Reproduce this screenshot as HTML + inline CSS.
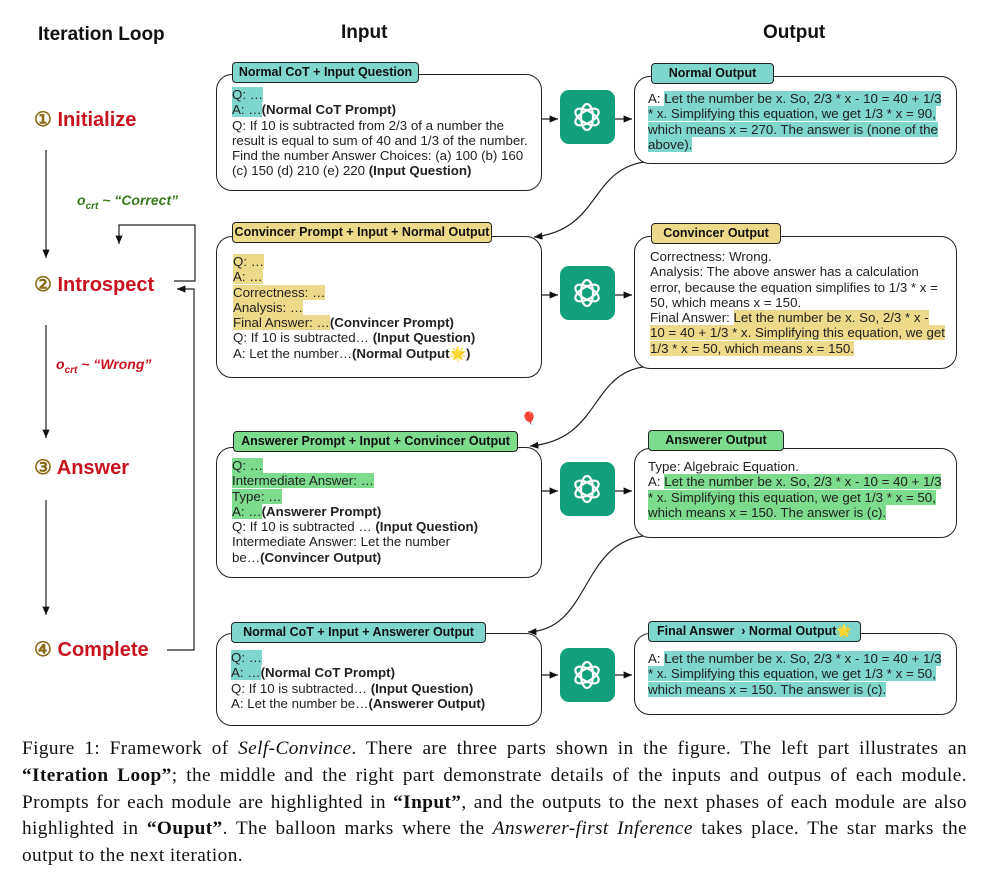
<!DOCTYPE html>
<html><head><meta charset="utf-8"><style>
body{margin:0;background:#fff;width:987px;height:884px;position:relative;overflow:hidden;font-family:"Liberation Sans",sans-serif;}
.a{position:absolute;}
.h{font-weight:bold;font-size:19px;color:#111;}
.box{position:absolute;border:1.3px solid #222;border-radius:16px;background:#fff;}
.tab{position:absolute;border:1.3px solid #222;border-radius:4px;font-size:12.5px;font-weight:bold;text-align:center;line-height:19px;color:#111;}
.txt{position:absolute;font-size:13.3px;line-height:15.3px;color:#222;}
.c{background:#7fd6cc}.y{background:#ecd98a}.g{background:#7ddb8c}
.tc{background:#7fd6cc}.ty{background:#ecd98a}.tg{background:#7ddb8c}
.gpt{position:absolute;width:55px;height:54px;background:#12a07c;border-radius:9px;}
.st{position:absolute;font-size:20px;font-weight:bold;color:#c8121e;}
.st span{color:#8a6a14;}
.cap{position:absolute;left:22px;top:736px;width:945px;font-family:"Liberation Serif",serif;font-size:19.3px;letter-spacing:0.4px;line-height:26.8px;color:#111;}
.cap div{text-align:justify;text-align-last:justify;white-space:nowrap;}
.cap div.l{text-align-last:left;}
</style></head><body>
<div class="a h" style="left:38px;top:24px">Iteration Loop</div>
<div class="a h" style="left:341px;top:22px">Input</div>
<div class="a h" style="left:763px;top:22px">Output</div>

<div class="st" style="left:34px;top:107px"><span>①</span> Initialize</div>
<div class="st" style="left:34px;top:272px"><span>②</span> Introspect</div>
<div class="st" style="left:34px;top:455px"><span>③</span> Answer</div>
<div class="st" style="left:34px;top:637px"><span>④</span> Complete</div>
<div class="a" style="left:77px;top:192px;font-size:14px;font-weight:bold;font-style:italic;color:#3a7a1e">o<sub style="font-size:10px">crt</sub> ~ “Correct”</div>
<div class="a" style="left:56px;top:356px;font-size:14px;font-weight:bold;font-style:italic;color:#c8121e">o<sub style="font-size:10px">crt</sub> ~ “Wrong”</div>

<svg class="a" style="left:0;top:0" width="987" height="884">
<defs><marker id="m" markerWidth="8" markerHeight="8" refX="7" refY="4" orient="auto"><path d="M0,1 L7,4 L0,7z" fill="#111"/></marker></defs>
<g stroke="#222" stroke-width="1.2" fill="none" marker-end="url(#m)">
<line x1="46" y1="150" x2="46" y2="258"/>
<line x1="46" y1="325" x2="46" y2="438"/>
<line x1="46" y1="500" x2="46" y2="615" />
<path d="M174 281 H195 V225 H119 V244" />
<path d="M167 650 H194 V289 H177"/>
<line x1="541" y1="119" x2="558" y2="119"/>
<line x1="615" y1="119" x2="632" y2="119"/>
<line x1="541" y1="295" x2="558" y2="295"/>
<line x1="615" y1="295" x2="632" y2="295"/>
<line x1="541" y1="491" x2="558" y2="491"/>
<line x1="615" y1="491" x2="632" y2="491"/>
<line x1="541" y1="675" x2="558" y2="675"/>
<line x1="615" y1="675" x2="632" y2="675"/>
<path d="M644 162 C590 170 600 230 534 237"/>
<path d="M643 367 C590 375 600 440 530 446"/>
<path d="M643 536 C580 545 590 630 528 632"/>
</g>
</svg>

<div class="box" style="left:216px;top:74px;width:324px;height:115px"></div>
<div class="tab tc" style="left:232px;top:62px;width:185px">Normal CoT + Input Question</div>
<div class="txt" style="left:232px;top:87px;width:296px"><span class="c">Q: …</span><br><span class="c">A: …</span><b>(Normal CoT Prompt)</b><br>Q: If 10 is subtracted from 2/3 of a number the result is equal to sum of 40 and 1/3 of the number. Find the number Answer Choices: (a) 100 (b) 160 (c) 150 (d) 210 (e) 220 <b>(Input Question)</b></div>

<div class="box" style="left:216px;top:236px;width:324px;height:140px"></div>
<div class="tab ty" style="left:232px;top:222px;width:258px">Convincer Prompt + Input + Normal Output</div>
<div class="txt" style="left:233px;top:254px;width:300px"><span class="y">Q: …</span><br><span class="y">A: …</span><br><span class="y">Correctness: …</span><br><span class="y">Analysis: …</span><br><span class="y">Final Answer: …</span><b>(Convincer Prompt)</b><br>Q: If 10 is subtracted… <b>(Input Question)</b><br>A: Let the number…<b>(Normal Output🌟)</b></div>

<div class="box" style="left:216px;top:447px;width:324px;height:129px"></div>
<div class="tab tg" style="left:233px;top:431px;width:283px">Answerer Prompt + Input + Convincer Output</div>
<div class="a" style="left:521px;top:411px;font-size:13px">🎈</div>
<div class="txt" style="left:232px;top:458px;width:230px"><span class="g">Q: …</span><br><span class="g">Intermediate Answer: …</span><br><span class="g">Type: …</span><br><span class="g">A: …</span><b>(Answerer Prompt)</b><br><span style="white-space:nowrap">Q: If 10 is subtracted … <b>(Input Question)</b></span><br>Intermediate Answer: Let the number be…<b>(Convincer Output)</b></div>

<div class="box" style="left:216px;top:633px;width:324px;height:91px"></div>
<div class="tab tc" style="left:231px;top:622px;width:253px">Normal CoT + Input + Answerer Output</div>
<div class="txt" style="left:231px;top:650px;width:305px"><span class="c">Q: …</span><br><span class="c">A: …</span><b>(Normal CoT Prompt)</b><br>Q: If 10 is subtracted… <b>(Input Question)</b><br>A: Let the number be…<b>(Answerer Output)</b></div>

<div class="gpt" style="left:560px;top:90px"></div>
<div class="gpt" style="left:560px;top:266px"></div>
<div class="gpt" style="left:560px;top:462px"></div>
<div class="gpt" style="left:560px;top:648px"></div>
<svg class="a" style="left:0;top:0" width="987" height="884" fill="none" stroke="#fff" stroke-width="2.2">
<g id="k"><ellipse cx="587" cy="117" rx="6" ry="13"/><ellipse cx="587" cy="117" rx="6" ry="13" transform="rotate(60 587 117)"/><ellipse cx="587" cy="117" rx="6" ry="13" transform="rotate(-60 587 117)"/></g>
<use href="#k" y="176"/><use href="#k" y="372"/><use href="#k" y="558"/>
</svg>

<div class="box" style="left:634px;top:76px;width:321px;height:86px"></div>
<div class="tab tc" style="left:651px;top:63px;width:121px">Normal Output</div>
<div class="txt" style="left:648px;top:91px;width:294px">A: <span class="c">Let the number be x. So, 2/3 * x - 10 = 40 + 1/3 * x. Simplifying this equation, we get 1/3 * x = 90, which means x = 270. The answer is (none of the above).</span></div>

<div class="box" style="left:634px;top:236px;width:321px;height:131px"></div>
<div class="tab ty" style="left:651px;top:223px;width:128px">Convincer Output</div>
<div class="txt" style="left:650px;top:249px;width:296px">Correctness: Wrong.<br>Analysis: The above answer has a calculation error, because the equation simplifies to 1/3 * x = 50, which means x = 150.<br>Final Answer: <span class="y">Let the number be x. So, 2/3 * x - 10 = 40 + 1/3 * x. Simplifying this equation, we get 1/3 * x = 50, which means x = 150.</span></div>

<div class="box" style="left:634px;top:448px;width:321px;height:88px"></div>
<div class="tab tg" style="left:648px;top:430px;width:134px">Answerer Output</div>
<div class="txt" style="left:648px;top:459px;width:294px">Type: Algebraic Equation.<br>A: <span class="g">Let the number be x. So, 2/3 * x - 10 = 40 + 1/3 * x. Simplifying this equation, we get 1/3 * x = 50, which means x = 150. The answer is (c).</span></div>

<div class="box" style="left:634px;top:633px;width:321px;height:80px"></div>
<div class="tab tc" style="left:648px;top:621px;width:211px">Final Answer &nbsp;› Normal Output🌟</div>
<div class="txt" style="left:648px;top:651px;width:294px">A: <span class="c">Let the number be x. So, 2/3 * x - 10 = 40 + 1/3 * x. Simplifying this equation, we get 1/3 * x = 50, which means x = 150. The answer is (c).</span></div>

<div class="cap">
<div>Figure 1: Framework of <i>Self-Convince</i>. There are three parts shown in the figure. The left part illustrates an</div>
<div><b>“Iteration Loop”</b>; the middle and the right part demonstrate details of the inputs and outpus of each module.</div>
<div>Prompts for each module are highlighted in <b>“Input”</b>, and the outputs to the next phases of each module are also</div>
<div>highlighted in <b>“Ouput”</b>. The balloon marks where the <i>Answerer-first Inference</i> takes place. The star marks the</div>
<div class="l">output to the next iteration.</div>
</div>
</body></html>
